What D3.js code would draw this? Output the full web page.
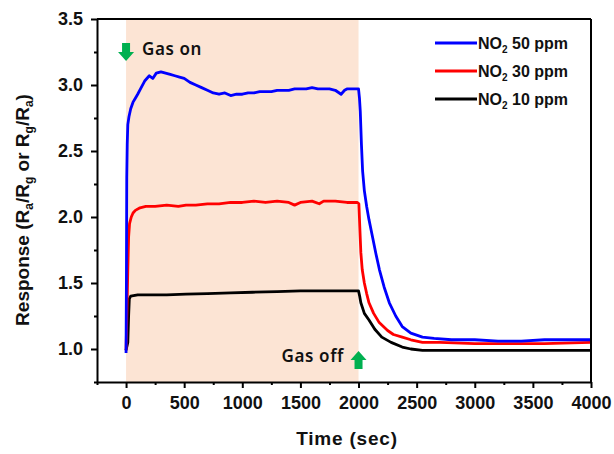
<!DOCTYPE html>
<html>
<head>
<meta charset="utf-8">
<script src="https://cdn.jsdelivr.net/npm/d3@7"></script>
<style>
  body { margin: 0; background: #fff; }
  text { font-family: "Liberation Sans", Arial, sans-serif; }
</style>
</head>
<body>
<div class="plot"></div>
<script>
// Data: [time (sec), response]
const no2_50 = [
  [0,0.97],[3,1.5],[6,2.3],[10,2.55],[15,2.7],[25,2.76],[40,2.82],[60,2.87],[80,2.9],[100,2.93],
  [130,2.98],[160,3.03],[200,3.07],[230,3.05],[260,3.09],[300,3.1],[340,3.09],[380,3.08],[420,3.07],
  [460,3.06],[500,3.05],[550,3.02],[600,3.0],[650,2.98],[700,2.96],[750,2.94],[800,2.93],[850,2.94],
  [900,2.92],[950,2.93],[1000,2.93],[1050,2.94],[1100,2.94],[1150,2.95],[1200,2.95],[1250,2.95],
  [1300,2.96],[1350,2.96],[1400,2.96],[1450,2.97],[1500,2.97],[1550,2.97],[1600,2.98],[1650,2.97],
  [1700,2.97],[1750,2.97],[1800,2.96],[1850,2.93],[1880,2.96],[1900,2.97],[1950,2.97],[1990,2.97],
  [2000,2.97],[2008,2.9],[2015,2.8],[2025,2.55],[2035,2.35],[2050,2.2],[2070,2.08],[2090,1.98],
  [2120,1.85],[2150,1.72],[2180,1.6],[2220,1.47],[2265,1.35],[2320,1.25],[2376,1.17],[2450,1.12],
  [2550,1.09],[2650,1.08],[2800,1.07],[3000,1.07],[3200,1.06],[3400,1.06],[3600,1.07],[3800,1.07],[4000,1.07]
];
const no2_30 = [
  [0,0.99],[8,1.3],[15,1.6],[22,1.85],[30,1.95],[45,2.0],[60,2.03],[80,2.05],[120,2.07],[170,2.08],
  [250,2.08],[350,2.09],[450,2.08],[516,2.09],[600,2.09],[700,2.1],[800,2.1],[900,2.11],[1000,2.11],
  [1100,2.12],[1200,2.11],[1300,2.12],[1400,2.11],[1450,2.09],[1500,2.11],[1600,2.12],[1662,2.1],
  [1700,2.12],[1800,2.12],[1900,2.11],[1990,2.11],[2003,2.1],[2012,1.9],[2020,1.73],[2032,1.6],
  [2050,1.5],[2070,1.42],[2090,1.35],[2130,1.27],[2178,1.2],[2250,1.14],[2300,1.11],[2376,1.09],
  [2450,1.07],[2550,1.05],[2700,1.05],[3000,1.04],[3300,1.04],[3600,1.04],[4000,1.05]
];
const no2_10 = [
  [0,0.99],[15,1.05],[22,1.25],[28,1.38],[40,1.4],[100,1.41],[200,1.41],[350,1.41],[516,1.415],
  [700,1.42],[900,1.425],[1088,1.43],[1300,1.435],[1500,1.44],[1700,1.44],[1948,1.44],[2000,1.44],
  [2010,1.4],[2020,1.35],[2050,1.27],[2090,1.22],[2140,1.15],[2200,1.09],[2280,1.05],[2376,1.015],
  [2450,1.0],[2550,0.99],[3000,0.99],[3500,0.99],[4000,0.99]
];
const seriesNames = ["50 ppm", "30 ppm", "10 ppm"];
const seriesColors = ["#0000ff", "#ff0000", "#000000"];
const xTicks = [0, 500, 1000, 1500, 2000, 2500, 3000, 3500, 4000];
const yTicks = [1.0, 1.5, 2.0, 2.5, 3.0, 3.5];
const gasOn = 0, gasOff = 2000;

const W = 614, H = 454;
const svg = d3.select(".plot").append("svg")
    .attr("width", W).attr("height", H);

const x = d3.scaleLinear().domain([-250, 4000]).range([97, 591]);
const y = d3.scaleLinear().domain([0.75, 3.5]).range([382, 19]);

// shaded exposure period
svg.append("rect")
    .attr("x", x(gasOn)).attr("y", y(3.5))
    .attr("width", x(gasOff) - x(gasOn))
    .attr("height", y(0.75) - y(3.5))
    .attr("fill", "#fce4d4");

// curves
const line = d3.line().x(d => x(d[0])).y(d => y(d[1]));
const allSeries = [no2_50, no2_30, no2_10];
[2, 1, 0].forEach(i => {
    svg.append("path")
        .datum(allSeries[i])
        .attr("fill", "none")
        .attr("stroke", seriesColors[i])
        .attr("stroke-width", 2.8)
        .attr("stroke-linejoin", "round")
        .attr("d", line);
});

// axes
svg.append("g")
    .attr("transform", "translate(0," + y(0.75) + ")")
    .call(d3.axisBottom(x).tickValues(xTicks).tickSize(6).tickSizeOuter(0).tickPadding(8)
        .tickFormat(d3.format("d")));
svg.append("g")
    .attr("transform", "translate(0," + y(0.75) + ")")
    .call(d3.axisBottom(x).tickValues(d3.range(-250, 4001, 500)).tickSize(3).tickFormat(""))
    .select(".domain").remove();
svg.append("g")
    .attr("transform", "translate(" + x(-250) + ",0)")
    .call(d3.axisLeft(y).tickValues(yTicks).tickSize(6).tickSizeOuter(0).tickPadding(8)
        .tickFormat(d3.format(".1f")));
svg.append("g")
    .attr("transform", "translate(" + x(-250) + ",0)")
    .call(d3.axisLeft(y).tickValues([0.75, 1.25, 1.75, 2.25, 2.75, 3.25]).tickSize(3).tickFormat(""))
    .select(".domain").remove();

svg.selectAll(".domain, .tick line").attr("stroke", "#000").attr("stroke-width", 2);
svg.selectAll(".tick text")
    .attr("fill", "#111")
    .style("font-size", "18px")
    .style("font-weight", "bold");

// top and right frame
svg.append("line").attr("x1", x(-250)).attr("x2", x(4000)).attr("y1", y(3.5)).attr("y2", y(3.5))
    .attr("stroke", "#000").attr("stroke-width", 2);
svg.append("line").attr("x1", x(4000)).attr("x2", x(4000)).attr("y1", y(3.5)).attr("y2", y(0.75))
    .attr("stroke", "#000").attr("stroke-width", 2);

// axis titles
svg.append("text")
    .attr("x", 347).attr("y", 445)
    .attr("text-anchor", "middle")
    .style("font-size", "19px").style("font-weight", "bold")
    .style("letter-spacing", "0.8px")
    .attr("fill", "#111")
    .text("Time (sec)");

const yl = svg.append("text")
    .attr("transform", "translate(29,210) rotate(-90)")
    .attr("text-anchor", "middle")
    .attr("fill", "#111")
    .style("font-size", "19px").style("font-weight", "bold");
[["Response (R", ""], ["a", "sub"], ["/R", ""], ["g", "sub"], [" or R", ""], ["g", "sub"], ["/R", ""], ["a", "sub"], [")", ""]]
    .forEach(p => {
        const t = yl.append("tspan").text(p[0]);
        if (p[1] === "sub") t.attr("baseline-shift", "-30%").style("font-size", "12px");
    });

// legend
const legend = svg.append("g").attr("transform", "translate(435,43)");
seriesNames.forEach((name, i) => {
    const g = legend.append("g").attr("transform", "translate(0," + i * 28 + ")");
    g.append("line").attr("x1", 0).attr("x2", 42).attr("y1", 0).attr("y2", 0)
        .attr("stroke", seriesColors[i]).attr("stroke-width", 2.8);
    const t = g.append("text").attr("x", 43).attr("y", 6)
        .attr("fill", "#111")
        .style("font-size", "16px").style("font-weight", "bold");
    t.append("tspan").text("NO");
    t.append("tspan").text("2").attr("baseline-shift", "-35%").style("font-size", "10px");
    t.append("tspan").text(" " + name);
});

// gas on / off markers
const green = "#00b050";
function arrow(cx, tipY, dir) {
    // dir = 1 points down, -1 points up
    const hw = 8, sw = 4, len = 18, head = 9;
    const base = tipY - dir * len, neck = tipY - dir * head;
    const pts = [[cx - sw, base], [cx + sw, base], [cx + sw, neck], [cx + hw, neck],
                 [cx, tipY], [cx - hw, neck], [cx - sw, neck]];
    svg.append("polygon").attr("points", pts.map(p => p.join(",")).join(" ")).attr("fill", green);
}
arrow(x(gasOn), 61, 1);
arrow(x(gasOff), 351, -1);

svg.append("text")
    .attr("x", 142).attr("y", 55)
    .style("font-family", "'Noto Sans', 'Open Sans', sans-serif")
    .style("font-size", "17px").style("font-weight", "600")
    .style("letter-spacing", "0.6px")
    .attr("fill", "#111")
    .text("Gas on");
svg.append("text")
    .attr("x", 344).attr("y", 362)
    .attr("text-anchor", "end")
    .style("font-family", "'Noto Sans', 'Open Sans', sans-serif")
    .style("font-size", "17px").style("font-weight", "600")
    .style("letter-spacing", "0.6px")
    .attr("fill", "#111")
    .text("Gas off");
</script>
</body>
</html>
